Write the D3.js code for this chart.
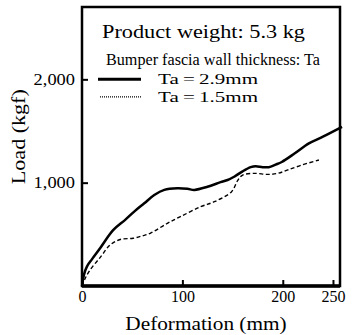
<!DOCTYPE html>
<html>
<head>
<meta charset="utf-8">
<script src="https://cdn.jsdelivr.net/npm/d3@7"></script>
<style>
  body { margin: 0; background: #fff; }
  svg text { font-family: 'Liberation Serif', 'Times New Roman', serif; fill: #000; }
</style>
</head>
<body>
<div id="chart"></div>
<script>
// data (deformation mm, load kgf)
var thickX = [0, 2, 5, 10, 18, 31, 43, 52, 62, 72, 82, 95, 105, 112, 125, 138, 145, 152, 160, 168, 173, 180, 186, 193, 199, 212, 226, 240, 259]
var thickY = [0, 110, 190, 260, 365, 540, 640, 720, 800, 880, 930, 945, 940, 930, 960, 1005, 1026, 1060, 1110, 1150, 1160, 1150, 1150, 1175, 1200, 1284, 1380, 1445, 1540]

var thinX = [0, 3, 8, 18, 28, 38, 51, 60, 68, 85, 98, 118, 132, 149, 155, 160, 172, 185, 195, 205, 219, 236]
var thinY = [0, 70, 155, 275, 397, 450, 462, 485, 510, 607, 671, 767, 816, 913, 1020, 1074, 1090, 1080, 1090, 1123, 1171, 1219]

var xTicks = [0, 100, 200, 250]
var yTicks = [1000, 2000]
var legendLabels = ['Ta\u2009=\u20092.9mm', 'Ta\u2009=\u20091.5mm']

var margin = { top: 7, left: 82, right: 12, bottom: 49 }
var width = 352 - margin.left - margin.right
var height = 335 - margin.top - margin.bottom

var svg = d3
  .select('#chart')
  .append('svg')
  .attr('width', 352)
  .attr('height', 335)
  .append('g')
  .attr('transform', 'translate(' + margin.left + ',' + margin.top + ')')

var xPositionScale = d3.scaleLinear().domain([0, 257]).range([0, width])
var yPositionScale = d3.scaleLinear().domain([0, 2700]).range([height, 0])

// the scan is a bit wider than tall, so stretch text sideways
function stretch(sel, k) {
  sel.each(function() {
    var len = this.getComputedTextLength()
    d3.select(this)
      .attr('textLength', len * k)
      .attr('lengthAdjust', 'spacingAndGlyphs')
  })
}

var line = d3
  .line()
  .x(d => xPositionScale(d[0]))
  .y(d => yPositionScale(d[1]))
  .curve(d3.curveCatmullRom.alpha(0.5))

svg
  .append('path')
  .datum(thickX.map((x, i) => [x, thickY[i]]))
  .attr('d', line)
  .attr('fill', 'none')
  .attr('stroke', '#000')
  .attr('stroke-width', 2.5)

svg
  .append('path')
  .datum(thinX.map((x, i) => [x, thinY[i]]))
  .attr('d', line)
  .attr('fill', 'none')
  .attr('stroke', '#000')
  .attr('stroke-width', 1.4)
  .attr('stroke-dasharray', '4,2.5')

// axes
var xAxis = d3
  .axisBottom(xPositionScale)
  .tickValues(xTicks)
  .tickSizeInner(-6)
  .tickSizeOuter(0)
  .tickPadding(5)
  .tickFormat(d3.format('d'))

var xg = svg
  .append('g')
  .attr('class', 'axis x-axis')
  .attr('transform', 'translate(0,' + height + ')')
  .call(xAxis)
  .attr('font-family', null)
xg.select('.domain').remove()
xg.selectAll('line').attr('stroke-width', 2)
xg.selectAll('text').attr('font-size', 16)

var yAxis = d3
  .axisLeft(yPositionScale)
  .tickValues(yTicks)
  .tickSizeInner(-6)
  .tickSizeOuter(0)
  .tickPadding(7)
  .tickFormat(d3.format(','))

var yg = svg
  .append('g')
  .attr('class', 'axis y-axis')
  .call(yAxis)
  .attr('font-family', null)
yg.select('.domain').remove()
yg.selectAll('line').attr('stroke-width', 2)
yg.selectAll('text').attr('font-size', 16).call(stretch, 1.15)

// frame
svg
  .append('rect')
  .attr('x', 0)
  .attr('y', 0)
  .attr('width', width)
  .attr('height', height)
  .attr('fill', 'none')
  .attr('stroke', '#000')
  .attr('stroke-width', 2.5)

svg
  .append('line')
  .attr('x1', 0)
  .attr('x2', width)
  .attr('y1', height)
  .attr('y2', height)
  .attr('stroke', '#000')
  .attr('stroke-width', 3.5)

// axis titles
svg
  .append('text')
  .text('Deformation (mm)')
  .attr('x', width / 2 - 5)
  .attr('y', height + 44)
  .attr('text-anchor', 'middle')
  .attr('font-size', 19)
  .call(stretch, 1.12)

svg
  .append('text')
  .text('Load (kgf)')
  .attr('transform', 'translate(-57,' + (yPositionScale(1000) - 46) + ') rotate(-90)')
  .attr('text-anchor', 'middle')
  .attr('font-size', 19)
  .attr('textLength', 95)
  .attr('lengthAdjust', 'spacingAndGlyphs')

// legend box text
svg
  .append('text')
  .text('Product weight: 5.3 kg')
  .attr('x', 20)
  .attr('y', 31)
  .attr('font-size', 19)
  .attr('textLength', 203)
  .attr('lengthAdjust', 'spacingAndGlyphs')

svg
  .append('text')
  .text('Bumper fascia wall thickness: Ta')
  .attr('x', 24)
  .attr('y', 58)
  .attr('font-size', 17)
  .attr('textLength', 214)
  .attr('lengthAdjust', 'spacingAndGlyphs')

var legend = svg
  .selectAll('.legend')
  .data(legendLabels)
  .enter()
  .append('g')
  .attr('class', 'legend')
  .attr('transform', (d, i) => 'translate(0,' + (yPositionScale(2000) + i * 17.5) + ')')

legend
  .append('line')
  .attr('x1', (d, i) => (i === 0 ? 16 : 18))
  .attr('x2', 59)
  .attr('y1', 0)
  .attr('y2', 0)
  .attr('stroke', '#000')
  .attr('stroke-width', (d, i) => (i === 0 ? 3 : 1.3))
  .attr('stroke-dasharray', (d, i) => (i === 0 ? null : '1,1'))

legend
  .append('text')
  .text(d => d)
  .attr('x', 76)
  .attr('y', 5)
  .attr('font-size', 15.5)
  .attr('textLength', 100)
  .attr('lengthAdjust', 'spacingAndGlyphs')
</script>
</body>
</html>
